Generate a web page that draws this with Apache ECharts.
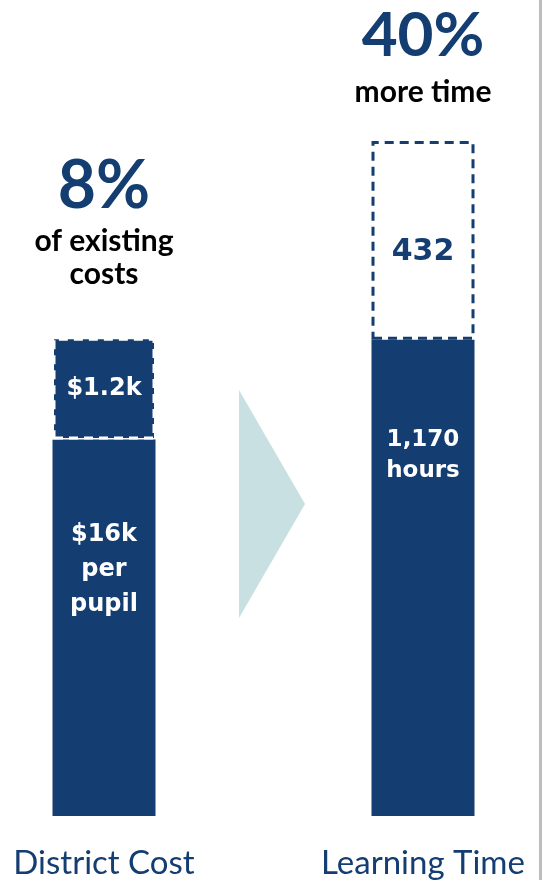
<!DOCTYPE html>
<html><head><meta charset="utf-8">
<script src="https://cdn.jsdelivr.net/npm/echarts@6/dist/echarts.min.js"></script>
<style>html,body{margin:0;padding:0;background:#fff}#c{width:542px;height:880px}</style>
</head><body><div id="c"></div>
<script>
// Categories and values (bar heights are schematic display units)
const categories = ['District Cost', 'Learning Time'];
const baseValues = [377, 477];        // existing: $16k per pupil, 1,170 hours
const addedValues = [102, 199];       // added: $1.2k, 432 hours
const baseLabels = ['$16k\nper\npupil', '1,170\nhours'];
const addedLabels = ['$1.2k', '432'];
const headPct = ['8%', '40%'];
const headText = ['of existing\ncosts', 'more time'];

const BLUE = '#143d72';
const chart = echarts.init(document.getElementById('c'), null, {renderer: 'canvas'});
const headFont = 'Lato, "Noto Sans", sans-serif';
const barFont = '"DejaVu Sans", sans-serif';

chart.setOption({
  animation: false,
  backgroundColor: '#fff',
  grid: {left: 104, right: 119, top: 137, bottom: 63, containLabel: false},
  xAxis: {
    type: 'category', data: categories, boundaryGap: false,
    axisLine: {show: false}, axisTick: {show: false}, splitLine: {show: false},
    axisLabel: {color: BLUE, fontSize: 33, fontFamily: headFont, margin: 31}
  },
  yAxis: {type: 'value', min: 0, max: 680, show: false},
  graphic: [
    {type: 'polygon', shape: {points: [[239, 390], [305, 504], [239, 618]]}, style: {fill: '#c8e0e1'}, z: 1},
    {type: 'rect', shape: {x: 539, y: 0, width: 3, height: 880}, style: {fill: '#bdbdbd'}, z: 1}
  ],
  series: [
    {
      type: 'bar', stack: 's', barWidth: 103,
      data: baseValues.map((v, i) => ({
        value: v,
        label: i === 0
          ? {position: ['50%', 78], fontSize: 24, lineHeight: 35}
          : {position: ['50%', 85], fontSize: 23, lineHeight: 31}
      })),
      itemStyle: {color: BLUE},
      label: {
        show: true, color: '#fff', fontWeight: 'bold', fontFamily: barFont,
        align: 'center', verticalAlign: 'top',
        formatter: p => baseLabels[p.dataIndex]
      }
    },
    {
      type: 'bar', stack: 's', barWidth: 103,
      data: addedValues.map((v, i) => ({
        value: v,
        itemStyle: i === 0
          ? {color: BLUE, borderColor: '#ffffff', borderWidth: 3, borderType: [9, 6]}
          : {color: '#ffffff', borderColor: BLUE, borderWidth: 3, borderType: [9, 6]},
        label: i === 0
          ? {color: '#fff', fontSize: 24, offset: [0, 0]}
          : {color: BLUE, fontSize: 30, offset: [0, 12]}
      })),
      label: {
        show: true, position: 'inside', fontWeight: 'bold', fontFamily: barFont,
        formatter: p => addedLabels[p.dataIndex]
      }
    },
    {
      type: 'scatter', symbolSize: 0,
      itemStyle: {opacity: 1},
      data: categories.map((c, i) => ({
        value: [i, baseValues[i] + addedValues[i]],
        label: {distance: i === 0 ? 47 : 32}
      })),
      label: {
        show: true, position: 'top', align: 'center',
        formatter: p => '{pct' + p.dataIndex + '|' + headPct[p.dataIndex] + '}\n' +
          headText[p.dataIndex].split('\n').map(t => '{txt|' + t + '}').join('\n'),
        rich: {
          pct0: {fontSize: 66, fontWeight: 'bold', color: BLUE, fontFamily: headFont, lineHeight: 76, align: 'center'},
          pct1: {fontSize: 62, fontWeight: 'bold', color: BLUE, fontFamily: headFont, lineHeight: 80, align: 'center'},
          txt: {fontSize: 30, fontWeight: 'bold', color: '#000', fontFamily: headFont, lineHeight: 33, align: 'center'}
        }
      },
      z: 5
    }
  ]
});
</script></body></html>
